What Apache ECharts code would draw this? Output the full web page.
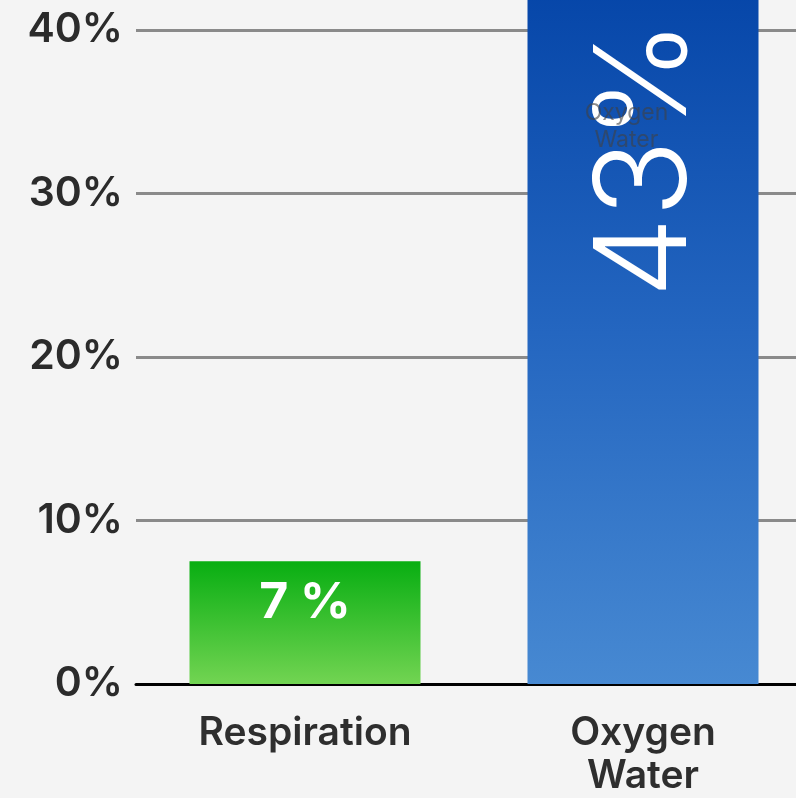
<!DOCTYPE html>
<html>
<head>
<meta charset="utf-8">
<script src="https://cdn.jsdelivr.net/npm/echarts@6/dist/echarts.min.js"></script>
<style>
html,body{margin:0;padding:0;background:#f4f4f4;overflow:hidden;width:796px;height:798px;}
#chart{position:absolute;left:0;top:-60px;width:812px;height:858px;}
</style>
</head>
<body>
<div id="chart"></div>
<script>
var categories = ['Respiration', 'Oxygen\nWater'];
var values = [7.5, 43];
var valueLabels = ['7 %', '43%'];
var innerNames = ['', 'Oxygen\nWater'];
var yTickStep = 10;

var chart = echarts.init(document.getElementById('chart'));
var FONT = 'Inter, "Noto Sans", sans-serif';

var mainData = values.map(function (v, i) {
  var item = { value: v };
  if (i === 0) {
    item.itemStyle = {
      color: new echarts.graphic.LinearGradient(0, 0, 0, 1, [
        { offset: 0, color: '#08ae12' },
        { offset: 1, color: '#72d452' }
      ])
    };
    item.label = {
      show: true, position: 'insideTop', distance: 17,
      formatter: valueLabels[i],
      color: '#ffffff', fontSize: 50, fontWeight: 'bold', fontFamily: FONT
    };
  } else {
    item.itemStyle = {
      color: new echarts.graphic.LinearGradient(0, 0, 0, 1, [
        { offset: 0, color: '#0545a8' },
        { offset: 0.5, color: '#2466c0' },
        { offset: 1, color: '#4789d2' }
      ])
    };
    item.label = {
      show: true, position: [120, 178], rotate: 90,
      align: 'center', verticalAlign: 'middle',
      formatter: valueLabels[i],
      color: '#ffffff', fontSize: 128, fontWeight: 300, fontFamily: FONT
    };
  }
  return item;
});

var innerData = values.map(function (v, i) {
  return {
    value: v,
    label: {
      show: innerNames[i] !== '',
      position: [99, 146],
      align: 'center', verticalAlign: 'middle',
      formatter: innerNames[i],
      color: 'rgba(65,65,65,0.6)', fontSize: 23, lineHeight: 27, fontFamily: FONT
    }
  };
});

chart.setOption({
  backgroundColor: '#f4f4f4',
  animation: false,
  grid: { left: 136, right: 0, top: 8, bottom: 112, containLabel: false },
  xAxis: {
    type: 'category',
    data: categories,
    axisLine: { show: true, lineStyle: { color: '#000000', width: 3 } },
    axisTick: { show: false },
    axisLabel: {
      color: '#2e2e2e', fontSize: 39, fontWeight: 600, fontFamily: FONT,
      lineHeight: 43, margin: 28
    }
  },
  yAxis: {
    type: 'value',
    min: 0, max: 45, interval: yTickStep,
    axisLine: { show: false },
    axisTick: { show: false },
    splitLine: { lineStyle: { color: '#8a8a8a', width: 3 } },
    axisLabel: {
      color: '#2b2b2b', fontSize: 41, fontWeight: 600, fontFamily: FONT,
      margin: 13,
      formatter: function (v) { return v % yTickStep === 0 ? v + '%' : ''; }
    }
  },
  series: [
    {
      type: 'bar',
      data: mainData,
      barWidth: 231,
      barGap: '-100%',
      z: 2
    },
    {
      type: 'bar',
      data: innerData,
      barWidth: 231,
      barGap: '-100%',
      itemStyle: { color: 'rgba(0,0,0,0)' },
      z: 3
    }
  ]
});
</script>
</body>
</html>
